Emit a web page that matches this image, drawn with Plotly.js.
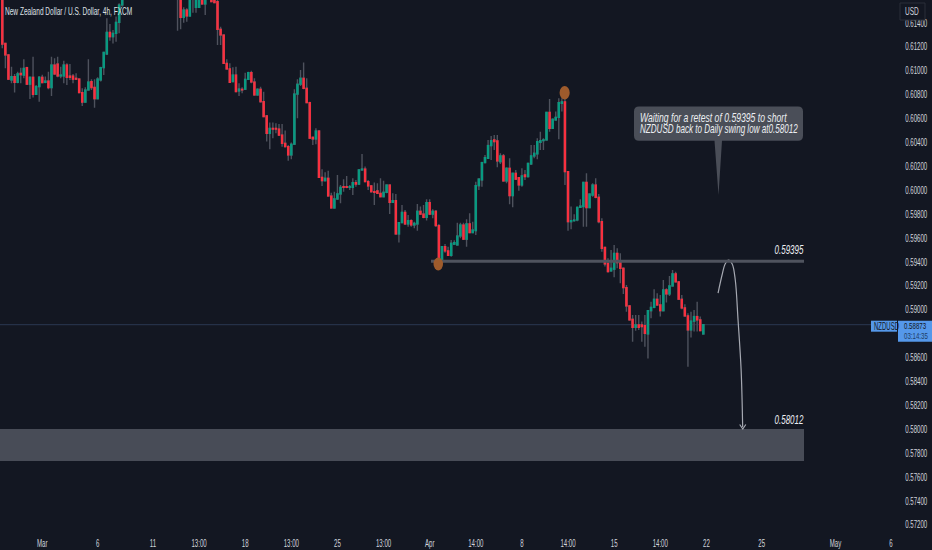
<!DOCTYPE html>
<html><head><meta charset="utf-8">
<script src="https://cdn.plot.ly/plotly-3.0.0.min.js"></script>
<style>html,body{margin:0;padding:0;background:#131722;overflow:hidden}#c{width:932px;height:550px}</style>
</head><body><div id="c"></div><script>
const _ = null;
const opens = [
.617,.61227,.6113,.60921,.60949,.60901,.60976,.60962,.61024,.60885,
.60943,.60801,.60865,.60943,.60901,.60912,.60857,.61046,.61054,.60954,
.60954,.61046,.60954,.60954,.60935,.60929,.60815,.60736,.60837,.60907,
.60859,.60764,.60921,.61024,.61138,.61319,.61283,.61311,.61403,.61548,
_,_,_,_,_,_,_,_,_,_,
_,_,_,_,_,_,_,.6165,.6165,.61445,
.61506,.61456,.6162,.61529,.61529,.6162,.61557,.6162,.6162,.616,
.61576,.61345,.61297,.6106,.61013,.60907,.60962,.60829,.60843,.60843,
.60926,.60982,.60904,.60795,.60843,.60739,.6062,.60474,.60516,.60516,
.6051,.6046,.60391,.60363,.60293,.60383,.60803,.60885,.60935,.60851,
.60731,.60441,.60427,.60494,.60106,.60078,.60098,.5995,.5985,.59925,
.59967,.60028,.60028,.60022,.60022,.60062,.6005,.60168,.60176,.6007,
.60034,.59986,.59992,.59972,.59944,.59981,.60042,.59897,.59911,.59632,
.59727,.59813,.59716,.59743,.59707,.59716,.59822,.59799,.59771,.59894,
.59799,.59822,.59702,.5942,.59526,.5949,.59453,.59546,.5954,.59615,
.59707,.59588,.59716,.59643,.5966,.60036,.60084,.60229,.60265,.60372,
.60419,.60411,.60237,.60285,.60076,.60182,.59953,.6014,.60104,.60042,
.60126,.60112,.60218,.60285,.60302,.60399,.60413,.60419,.6065,.60516,
.60586,.60608,.60725,.60737,.60154,.59735,.59744,.59749,.59855,.59861,
.60064,.59853,.59958,.60042,.59939,.59735,.5952,.59387,.59323,.59337,
.5947,.59392,.59345,.59183,.5903,.58918,.58851,.58871,.58871,.58865,
.58795,.5899,.59018,.59086,.59038,.5899,.59164,.5913,.59197,.59298,
.59231,.59086,.59013,.58946,.58829,.58902,.58941,.58913,.58795];
const highs = [
.6172,.61227,.6113,.61032,.60971,.6099,.61024,.61094,.61032,.60943,
.61116,.60879,.60954,.60965,.60949,.6099,.61116,.61102,.61116,.61032,
.61082,.6106,.61054,.60971,.60976,.60935,.60851,.60859,.61094,.60927,
.60927,.60943,.61032,.61158,.61437,.61389,.61339,.61451,.61562,.6168,
_,_,_,_,_,_,_,_,_,_,
_,_,_,_,_,_,_,.617,.617,.6153,
.6152,.617,.617,.6165,.6165,.6165,.6165,.617,.617,.617,
.6159,.61367,.61297,.61094,.6106,.61027,.61032,.60893,.60859,.60982,
.6099,.60999,.60935,.60851,.60865,.60823,.60628,.60564,.60564,.60558,
.60553,.60553,.60497,.60377,.60397,.60843,.60926,.61004,.61066,.60935,
.60739,.60447,.60516,.60502,.60173,.60148,.60162,.59978,.59986,.60126,
.60042,.6009,.60118,.60042,.60098,.60084,.60168,.60301,.60196,.60084,
.60042,.60062,.60056,.60098,.60078,.60042,.60042,.59972,.59966,.59727,
.59875,.59833,.59791,.59755,.59735,.59883,.59861,.59875,.59922,.59922,
.59838,.59833,.59716,.59526,.59548,.59526,.59582,.5958,.59727,.59727,
.59727,.59755,.59805,.59735,.6007,.60098,.60237,.60293,.60419,.60452,
.6046,.6046,.60307,.60302,.6019,.60265,.6014,.60168,.60104,.60182,
.60168,.60223,.60377,.60377,.60433,.60488,.60433,.6065,.60761,.606,
.60656,.60767,.60767,.60767,.60154,.59861,.59797,.59861,.59922,.60064,
.6014,.59966,.60056,.60098,.59966,.59763,.59526,.59428,.59498,.5954,
.59512,.5947,.59354,.59206,.59038,.58955,.58955,.58955,.58899,.58955,
.58996,.59066,.5917,.59136,.59122,.59247,.59178,.59281,.59331,.59317,
.59239,.59122,.59044,.58968,.58982,.58996,.59066,.58941,.58873];
const lows = [
.61186,.61018,.60927,.60893,.60815,.60893,.60893,.60935,.60879,.60762,
.60775,.60801,.60739,.60893,.60893,.60843,.60787,.60962,.60943,.60935,
.60893,.60879,.60921,.60893,.60921,.60809,.60703,.60731,.60831,.60837,
.60689,.60762,.60907,.60962,.6113,.6125,.61227,.61241,.61311,.61534,
_,_,_,_,_,_,_,_,_,_,
_,_,_,_,_,_,_,.61333,.61345,.614,
.61409,.61456,.61484,.61484,.61529,.61557,.61465,.616,.61576,.61568,
.61213,.61213,.6106,.61013,.60899,.60901,.60823,.60787,.60809,.60837,
.60921,.60893,.6079,.6079,.60731,.60614,.60405,.60341,.60433,.60474,
.60452,.60363,.60355,.60245,.60257,.60377,.606,.60871,.60843,.60725,
.60433,.60377,.60383,.60106,.60034,.60078,.59944,.59847,.59847,.59917,
.59889,.59986,.60014,.6,.59958,.60028,.60042,.60162,.60064,.6,
.59978,.59875,.59966,.59939,.59939,.59972,.59799,.59897,.59632,.5956,
.59721,.59707,.59693,.59693,.59679,.5966,.59791,.59763,.59744,.59791,
.59763,.59693,.59331,.59414,.59476,.59448,.59442,.5954,.59535,.59596,
.59582,.59526,.59638,.59638,.59624,.6,.60028,.60223,.60265,.60251,
.60335,.6019,.60218,.6007,.60056,.5988,.59855,.60084,.59994,.60028,
.60084,.60104,.60209,.60265,.60257,.60335,.60335,.60413,.60488,.60516,
.6058,.60424,.60656,.60042,.5966,.59671,.59735,.59738,.59855,.59693,
.59693,.59847,.59944,.5993,.59721,.59484,.59359,.59309,.59317,.5927,
.59345,.5922,.5913,.58982,.58907,.58731,.58823,.58829,.58731,.58689,
.58591,.58927,.5901,.5903,.58941,.5899,.59058,.59114,.59192,.59225,
.5908,.59002,.58941,.58522,.58765,.58815,.58815,.58818,.58792];
const closes = [
.61221,.6113,.60927,.60949,.60901,.60971,.60965,.61018,.60885,.60943,
.60801,.60865,.60943,.60899,.60912,.60857,.61046,.60971,.60954,.60962,
.61046,.60943,.60943,.60927,.60927,.60815,.60736,.60837,.60904,.60857,
.60764,.60929,.61024,.61152,.61319,.61283,.61311,.61403,.61548,.6164,
_,_,_,_,_,_,_,_,_,_,
_,_,_,_,_,_,_,.616,.61445,.61506,
.61456,.6162,.616,.6161,.6162,.61557,.6162,.6161,.61576,.61568,
.61345,.61297,.6106,.61013,.60901,.60962,.60823,.60845,.60837,.60926,
.60982,.60904,.60795,.60843,.60739,.60614,.60474,.60516,.6051,.6051,
.6046,.60391,.60363,.60293,.60383,.60803,.60885,.60935,.60851,.60731,
.60433,.60427,.60494,.60106,.60078,.60098,.5995,.5985,.59925,.59967,
.60022,.60022,.60022,.60028,.60062,.6005,.60168,.60176,.6007,.60034,
.59986,.59981,.59972,.59944,.59981,.60042,.59897,.59911,.59632,.59727,
.59813,.59716,.59743,.59707,.59721,.59822,.59799,.59771,.59894,.59799,
.59822,.59702,.59428,.59526,.5949,.59453,.59554,.5956,.59615,.59707,
.59588,.59716,.59644,.59665,.60036,.60092,.60229,.60271,.60372,.60413,
.60405,.60243,.60285,.60076,.60182,.59953,.6014,.6009,.60042,.60118,
.60112,.60223,.60285,.60307,.60405,.60413,.60419,.6065,.60516,.60592,
.60608,.60731,.60737,.60154,.59735,.59744,.59749,.59855,.59866,.60064,
.59853,.59966,.60042,.59939,.59735,.59512,.59381,.59317,.59345,.5947,
.59392,.59345,.59183,.5903,.58913,.58851,.58871,.58851,.58857,.58801,
.5899,.59018,.59086,.59038,.5899,.59164,.5913,.59197,.59298,.59231,
.59086,.59013,.58946,.58829,.58902,.58941,.58913,.58823,.58873];
const xTickVals = [13,31,49,64,79,94,109,124,139,154,169,184,199,214,229,247,271,289];
const xTickText = ["Mar","6","11","13:00","18","13:00","25","13:00","Apr","14:00","8","14:00","15","14:00","22","25","May","6"];
const yTickVals = [.572,.574,.576,.578,.58,.582,.584,.586,.588,.59,.592,.594,.596,.598,.6,.602,.604,.606,.608,.61,.612,.614];
const retestLevel = 0.59403, zoneTop = 0.58, zoneBottom = 0.57732, lastPrice = 0.58873;
const swingLow = {i:141.8, p:0.59381}, swingHigh = {i:182.9, p:0.60814};
const planX = [232.8,234.1,235.1,236.2,237.4,238.4,239.3,240.3,240.8];
const planY = [.59138,.59289,.59381,.59414,.59381,.59247,.58912,.58494,.58017];

const FN = '"Liberation Sans",sans-serif';
const W=932,H=550,PW=897,PH=530;
const idx = opens.map((v,i)=>i);
const X = px => (px-2.3)/3.0746, Y = py => 0.6159-py*0.00008368;
const grey='#4e525d', up='#089a81', down='#f8303f';
const wick = {type:'candlestick',x:idx,open:opens,high:highs,low:lows,close:closes,
  increasing:{line:{color:grey,width:1.4},fillcolor:grey},decreasing:{line:{color:grey,width:1.4},fillcolor:grey},hoverinfo:'skip',showlegend:false};
const hi = opens.map((o,i)=>o===null?null:Math.max(o,closes[i]));
const lo = opens.map((o,i)=>o===null?null:Math.min(o,closes[i]));
const body = {type:'candlestick',x:idx,open:opens,high:hi,low:lo,close:closes,
  increasing:{line:{color:up,width:1.2},fillcolor:up},decreasing:{line:{color:down,width:1.2},fillcolor:down},hoverinfo:'skip',showlegend:false};
const plan = {type:'scatter',mode:'lines',x:planX,y:planY,line:{color:'#a6a9b2',width:1.2,shape:'spline',smoothing:1},hoverinfo:'skip',showlegend:false};

const squeezeBy = {};
const T = (text,x,y,s,o={})=>{squeezeBy[text.replace(/<[^>]+>/g,'')]=s;return Object.assign({text,x:x/PW,y:1-y/PH,xref:'paper',yref:'paper',showarrow:false,borderpad:0,
  xanchor:'left',yanchor:'middle',align:'left',font:{family:FN,size:12,color:'#eceef2'}},o);};
const path = pts => 'M'+pts.map(p=>X(p[0])+','+Y(p[1])).join('L');
const box = (x0,y0,x1,y1,fill,line)=>({type:'rect',xref:'paper',yref:'paper',x0:x0/PW,x1:x1/PW,y0:1-y0/PH,y1:1-y1/PH,fillcolor:fill,line:line||{width:0},layer:'above'});
const r=5,cx0=634,cx1=803,cy0=106.5,cy1=140.7;
const bubble = `M${X(cx0+r)},${Y(cy0)}L${X(cx1-r)},${Y(cy0)}Q${X(cx1)},${Y(cy0)} ${X(cx1)},${Y(cy0+r)}L${X(cx1)},${Y(cy1-r)}Q${X(cx1)},${Y(cy1)} ${X(cx1-r)},${Y(cy1)}L${X(722)},${Y(cy1)}L${X(718.5)},${Y(195)}L${X(714.5)},${Y(cy1)}L${X(cx0+r)},${Y(cy1)}Q${X(cx0)},${Y(cy1)} ${X(cx0)},${Y(cy1-r)}L${X(cx0)},${Y(cy0+r)}Q${X(cx0)},${Y(cy0)} ${X(cx0+r)},${Y(cy0)}Z`;
const shapes = [
 {type:'line',xref:'paper',x0:0,x1:871/PW,yref:'y',y0:lastPrice,y1:lastPrice,line:{color:'#2b3852',width:1},layer:'below'},
 {type:'rect',xref:'x',x0:X(-2),x1:X(804),yref:'y',y0:zoneBottom,y1:zoneTop,fillcolor:'#484c57',line:{width:0},layer:'above'},
 {type:'line',xref:'x',x0:X(431),x1:X(804),yref:'y',y0:retestLevel,y1:retestLevel,line:{color:'#4f535e',width:3},layer:'above'},
 {type:'path',path:bubble,fillcolor:'#4a4e58',line:{width:0},layer:'above'},
 {type:'circle',xref:'x',yref:'y',x0:swingLow.i-1.55,x1:swingLow.i+1.55,y0:swingLow.p-0.00054,y1:swingLow.p+0.00054,fillcolor:'#9e5b2c',line:{width:0},layer:'above'},
 {type:'circle',xref:'x',yref:'y',x0:swingHigh.i-1.65,x1:swingHigh.i+1.65,y0:swingHigh.p-0.00056,y1:swingHigh.p+0.00056,fillcolor:'#9e5b2c',line:{width:0},layer:'above'},
 {type:'path',path:path([[739.7,424.5],[742.8,429],[745.8,424.5]]),line:{color:'#a6a9b2',width:1.2},layer:'above'},
 box(900,3,925,20,'#131722',{color:'#2a2e39',width:1}),
 box(871,320.7,897,331.7,'#5598ea'),
 box(898,320.7,932,341.7,'#5598ea')
];
const annotations = [
 T('New Zealand Dollar / U.S. Dollar, 4h, FXCM',4,11,0.595,{font:{family:FN,size:11,color:'#dfe1e6'}}),
 T('<i>0.59395</i>',805,250.5,0.665,{xanchor:'right',align:'right'}),
 T('<i>0.58012</i>',805,419.5,0.665,{xanchor:'right',align:'right'}),
 T('<i>Waiting for a retest of 0.59395 to short</i>',639.3,117.5,0.72,{}),
 T('<i>NZDUSD back to Daily swing low at0.58012</i>',639.3,128.5,0.675,{}),
 T('USD',904.3,11,0.62,{font:{family:FN,size:10.5,color:'#d1d4dc'}}),
 T('NZDUSD',872.7,326,0.6,{font:{family:FN,size:10,color:'#131722'}}),
 T('0.58873',903,325.5,0.68,{font:{family:FN,size:9,color:'#131722'}}),
 T('03:14:35',903,336,0.68,{font:{family:FN,size:9,color:'#1f3d66'}})
];
const layout = {width:W,height:H,margin:{l:0,r:W-PW,t:0,b:H-PH,pad:0},paper_bgcolor:'#131722',plot_bgcolor:'#131722',
 showlegend:false,boxgap:0.45,dragmode:false,
 xaxis:{range:[X(0),X(PW)],tickmode:'array',tickvals:xTickVals,ticktext:xTickText,showgrid:false,zeroline:false,showline:false,
   rangeslider:{visible:false},ticks:'outside',ticklen:3,tickcolor:'rgba(0,0,0,0)',tickangle:0,tickfont:{family:FN,size:11,color:'#d1d4dc'}},
 yaxis:{range:[Y(PH),Y(0)],side:'right',tickmode:'array',tickvals:yTickVals,ticktext:yTickVals.map(v=>v.toFixed(5)),showgrid:false,zeroline:false,showline:false,
   ticks:'outside',ticklen:5,tickcolor:'rgba(0,0,0,0)',tickfont:{family:FN,size:11,color:'#d1d4dc'}},
 shapes,annotations};
Plotly.newPlot('c',[wick,body,plan],layout,{staticPlot:true,displayModeBar:false}).then(()=>{
  const squeeze=(el,s)=>{
    const x=el.getAttribute('x')||0, y=el.getAttribute('y')||0, old=el.getAttribute('transform')||'';
    el.setAttribute('transform',`${old} translate(${x},${y}) scale(${s},1) translate(${-x},${-y})`);
  };
  document.querySelectorAll('.xtick text,.ytick text').forEach(el=>squeeze(el,0.555));
  document.querySelectorAll('.annotation-text').forEach(el=>squeeze(el,squeezeBy[el.textContent]||1));
});
</script></body></html>
